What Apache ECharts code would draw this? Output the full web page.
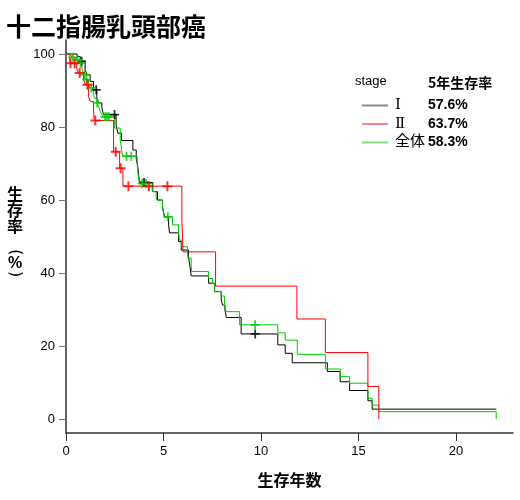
<!DOCTYPE html>
<html><head>
<meta charset="utf-8">
<title>十二指腸乳頭部癌</title>
<script src="https://cdn.jsdelivr.net/npm/echarts@6.0.0/dist/echarts.min.js"></script>
<style>
html,body{margin:0;padding:0;background:#fff;}
#main{width:520px;height:500px;}
</style>
</head>
<body>
<div id="main"></div>
<script type="text/javascript">
// stage I
var t1 = [0, 0.57, 0.73, 0.98, 1.07, 1.24, 1.41, 1.58, 1.67, 1.84, 1.92, 2.57, 2.66, 2.85, 3.43, 3.6, 3.68, 3.77, 4.45, 4.69, 4.95, 5.05, 5.26, 5.31, 5.77, 5.91, 6.28, 6.35, 6.42, 7.31, 7.62, 7.96, 8.03, 8.15, 8.22, 8.98, 10.86, 11.24, 11.6, 13.4, 14.06, 14.54, 15.48, 15.7, 22.06];
var s1 = [100, 99.3, 98, 95.7, 94.3, 92.5, 90.2, 87.9, 86.6, 85.2, 83.4, 80.5, 78.3, 76.3, 73.7, 71.4, 69.1, 64.8, 62.3, 60, 57.8, 55.4, 53.2, 51, 48.6, 46.3, 44.5, 42, 39.2, 37.2, 34.9, 32.6, 31.2, 29.9, 27.8, 23.3, 20.3, 18, 15.4, 13, 10.2, 7.8, 5, 2.7, 2.7];
var c1 = [0.8, 1.55, 2.49, 4.0, 9.7];
// stage II
var t2 = [0, 0.2, 0.55, 0.65, 0.9, 1.0, 1.15, 1.25, 1.41, 1.45, 2.44, 2.75, 2.92, 5.94, 6.0, 7.67, 11.84, 13.3, 15.48, 16.04];
var s2 = [100, 97.5, 96, 94.8, 93, 91.6, 88.4, 87, 84.7, 81.8, 73.2, 68.7, 63.8, 54.8, 45.8, 36.4, 27.4, 18.2, 8.9, 0];
var c2 = [0.23, 0.45, 0.7, 1.1, 1.5, 2.55, 2.8, 3.2, 4.25, 5.2];
// 全体
var t3 = [0, 0.22, 0.3, 0.55, 0.64, 0.81, 0.9, 0.98, 1.15, 1.24, 1.41, 1.45, 1.58, 1.67, 1.75, 1.84, 1.9, 2.49, 2.78, 2.83, 2.9, 3.65, 3.68, 3.77, 4.42, 4.62, 4.65, 4.95, 5.05, 5.46, 5.77, 5.82, 5.94, 6.23, 6.25, 6.42, 6.45, 7.31, 7.51, 7.62, 7.96, 8.13, 8.22, 8.9, 10.86, 11.24, 11.86, 13.3, 14.06, 14.54, 15.48, 15.7, 16.04, 22.06];
var s3 = [100, 99.6, 99.1, 98.4, 97.5, 96.2, 94.3, 93, 92, 90.7, 89.3, 87.9, 86.6, 85.7, 84.3, 83.4, 82.8, 79.7, 76.4, 74.6, 72, 70, 67.7, 64.5, 62.3, 61.4, 60, 58.2, 55.4, 53.2, 51, 49, 47.2, 46.3, 44, 41.7, 40.4, 38.5, 37.2, 34.9, 33.7, 31.2, 29.4, 25.8, 23.6, 21.6, 17.7, 13.7, 11.6, 9.8, 5.7, 3.8, 2.0, 0];
var c3 = [0.35, 0.6, 0.75, 0.95, 1.05, 1.3, 1.6, 2.0, 2.1, 2.2, 3.1, 3.35, 3.9, 4.1, 5.22, 9.7];

var stages = ['Ⅰ', 'Ⅱ', '全体'];
var rate5 = ['57.6%', '63.7%', '58.3%'];
var xTicks = [0, 5, 10, 15, 20];
var yTicks = [0, 20, 40, 60, 80, 100];

var FONT = "'Liberation Sans', 'Noto Sans CJK JP', sans-serif";
var CJK = "'Noto Sans CJK JP', sans-serif";
var PLUS = 'path://M4,0H6V4H10V6H6V10H4V6H0V4H4Z';

function pairs(t, s) {
    var arr = [];
    for (var i = 0; i < t.length; i++) arr.push([t[i], s[i]]);
    return arr;
}
// survival value at censor time
function marks(c, t, s) {
    var arr = [];
    for (var j = 0; j < c.length; j++) {
        var v = s[0];
        for (var i = 0; i < t.length; i++) { if (t[i] <= c[j]) v = s[i]; }
        arr.push([c[j], v]);
    }
    return arr;
}

function line(name, t, s, color, z) {
    return {
        name: name, type: 'line', step: 'end', data: pairs(t, s),
        symbol: 'none', z: z, animation: false,
        lineStyle: { color: color, width: 1 }, itemStyle: { color: color }
    };
}
function cens(name, c, t, s, color, size, z) {
    return {
        name: name, type: 'scatter', data: marks(c, t, s), symbol: PLUS,
        symbolSize: size, z: z, animation: false, itemStyle: { color: color }
    };
}

var myChart = echarts.init(document.getElementById('main'));

var option = {
    backgroundColor: '#fff',
    title: {
        text: '十二指腸乳頭部癌', left: 1, top: 9,
        textStyle: { fontFamily: CJK, fontSize: 25, fontWeight: 'bold', color: '#000' }
    },
    grid: { left: 66, right: 7, top: 40, bottom: 67 },
    xAxis: {
        type: 'value', min: 0, max: 22.92,
        name: '生存年数', nameLocation: 'middle', nameGap: 39,
        nameTextStyle: { fontFamily: CJK, fontSize: 16, fontWeight: 'bold', color: '#000' },
        axisLine: { onZero: false, lineStyle: { color: '#333', width: 1.5 } },
        axisTick: { customValues: xTicks, length: 8, lineStyle: { color: '#333' } },
        axisLabel: { customValues: xTicks, margin: 12, fontFamily: FONT, fontSize: 13, color: '#000' },
        splitLine: { show: false }
    },
    yAxis: {
        type: 'value', min: -3.84, max: 103.84,
        axisLine: { show: true, onZero: false, lineStyle: { color: '#333', width: 1.5 } },
        axisTick: { show: true, customValues: yTicks, length: 7, lineStyle: { color: '#777' } },
        axisLabel: { customValues: yTicks, margin: 11, fontFamily: FONT, fontSize: 13, color: '#000' },
        splitLine: { show: false }
    },
    legend: {
        orient: 'vertical', left: 357, top: 93, itemWidth: 26, itemHeight: 2, itemGap: 3.5,
        icon: 'rect', selectedMode: false,
        data: [
            { name: stages[0], itemStyle: { color: '#8a8a8a' } },
            { name: stages[1], itemStyle: { color: '#ff8080' } },
            { name: stages[2], itemStyle: { color: '#80e080' } }
        ],
        formatter: function (name) {
            return '{s|}{n|' + name + '}{p|' + rate5[stages.indexOf(name)] + '}';
        },
        textStyle: {
            fontFamily: FONT, fontSize: 13, color: '#000', lineHeight: 14,
            rich: {
                s: { width: 2, lineHeight: 14 },
                n: { width: 33, fontFamily: "'DejaVu Serif', 'Noto Sans CJK JP', serif", fontSize: 15, lineHeight: 14 },
                p: { fontFamily: FONT, fontSize: 14, fontWeight: 'bold', lineHeight: 14 }
            }
        }
    },
    graphic: [
        { type: 'text', left: 355, top: 75, style: { text: 'stage', font: "13px 'Liberation Sans'", fill: '#000' } },
        { type: 'text', left: 428, top: 76, style: { text: '5年生存率', font: "bold 14px 'Noto Sans CJK JP'", fill: '#000' } },
        { type: 'text', x: 15, y: 186, style: { text: '生\n存\n率', font: "bold 16px 'Noto Sans CJK JP'", lineHeight: 16, align: 'center', verticalAlign: 'top', fill: '#000' } },
        { type: 'text', x: 15, y: 252, rotation: -Math.PI / 2, style: { text: '(', font: "16px 'DejaVu Sans'", align: 'center', verticalAlign: 'middle', fill: '#000' } },
        { type: 'text', x: 15, y: 264, style: { text: '%', font: "bold 16px 'Liberation Sans'", align: 'center', verticalAlign: 'middle', fill: '#000' } },
        { type: 'text', x: 15, y: 274, rotation: -Math.PI / 2, style: { text: ')', font: "16px 'DejaVu Sans'", align: 'center', verticalAlign: 'middle', fill: '#000' } }
    ],
    series: [
        line(stages[0], t1, s1, '#000000', 2),
        line(stages[2], t3, s3, '#00c800', 3),
        line(stages[1], t2, s2, '#ff0000', 4),
        cens('c1', c1, t1, s1, '#000000', 9, 5),
        cens('c3', c3, t3, s3, '#00c800', 9, 6),
        cens('c2', c2, t2, s2, '#ff0000', 10, 7)
    ]
};
myChart.setOption(option);
</script>
</body>
</html>
